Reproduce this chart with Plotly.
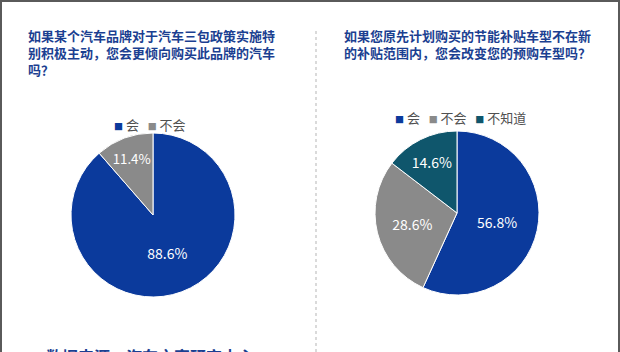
import plotly.graph_objects as go

W, H = 620, 352

left_title = "如果某个汽车品牌对于汽车三包政策实施特<br>别积极主动，您会更倾向购买此品牌的汽车<br>吗？"
right_title = "如果您原先计划购买的节能补贴车型不在新<br>的补贴范围内，您会改变您的预购车型吗？"
source_text = "数据来源：汽车之家研究中心"

left_labels = ["会", "不会"]
left_values = [88.6, 11.4]
right_labels = ["会", "不会", "不知道"]
right_values = [56.8, 28.6, 14.6]

left_colors = ["#0b3a9c", "#8a8a8a"]
right_colors = ["#0b3a9c", "#8a8a8a", "#0f566c"]
title_color = "#1b3f91"
FONT = "Noto Sans CJK SC"

def px_x(x):
    return x / W

def px_y(y):
    return 1 - y / H

def dom(cx, cy, r):
    return dict(x=[px_x(cx - r), px_x(cx + r)], y=[px_y(cy + r), px_y(cy - r)])

fig = go.Figure()
for labels, values, colors, (cx, cy) in [
    (left_labels, left_values, left_colors, (153, 215)),
    (right_labels, right_values, right_colors, (457, 213)),
]:
    fig.add_trace(go.Pie(
        labels=labels, values=values, sort=False, direction="clockwise", rotation=0,
        marker=dict(colors=colors, line=dict(color="white", width=1)),
        texttemplate="%{value:.1f}%", textposition="inside", insidetextorientation="horizontal",
        textfont=dict(color="white", size=14, family=FONT),
        domain=dom(cx, cy, 82), showlegend=False, hoverinfo="label+value",
    ))

def legend_text(labels, colors):
    parts = []
    for lab, col in zip(labels, colors):
        parts.append(f"<span style='color:{col};font-size:9px'>■</span> {lab}")
    return "   ".join(parts)

fig.update_layout(
    width=W, height=H, margin=dict(l=0, r=0, t=0, b=0),
    paper_bgcolor="white", plot_bgcolor="white",
    font=dict(family=FONT),
)

for labels, colors, (cx, cy) in [
    (left_labels, left_colors, (150, 124)),
    (right_labels, right_colors, (460, 117)),
]:
    fig.add_annotation(text=legend_text(labels, colors), x=px_x(cx), y=px_y(cy),
                       xref="paper", yref="paper", xanchor="center", yanchor="middle",
                       showarrow=False, font=dict(size=13, color="#505050", family=FONT))

fig.add_annotation(text=f"<b>{left_title}</b>", x=px_x(26), y=px_y(24), xref="paper", yref="paper",
                   xanchor="left", yanchor="top", align="left", showarrow=False,
                   font=dict(size=13, color=title_color, family=FONT))
fig.add_annotation(text=f"<b>{right_title}</b>", x=px_x(342), y=px_y(24), xref="paper", yref="paper",
                   xanchor="left", yanchor="top", align="left", showarrow=False,
                   font=dict(size=13, color=title_color, family=FONT))
fig.add_annotation(text=f"<b>{source_text}</b>", x=px_x(44), y=px_y(342), xref="paper", yref="paper",
                   xanchor="left", yanchor="top", align="left", showarrow=False,
                   font=dict(size=16, color=title_color, family=FONT))

# divider and border
fig.add_shape(type="line", xref="paper", yref="paper", x0=px_x(316), x1=px_x(316), y0=0, y1=px_y(28),
              line=dict(color="#b5b5b5", width=1, dash="dot"))
fig.add_shape(type="line", xref="paper", yref="paper", x0=0, x1=1, y0=px_y(1), y1=px_y(1),
              line=dict(color="#5a5a5a", width=2))
fig.add_shape(type="line", xref="paper", yref="paper", x0=px_x(1), x1=px_x(1), y0=0, y1=1,
              line=dict(color="#5a5a5a", width=2))
fig.add_shape(type="line", xref="paper", yref="paper", x0=px_x(619), x1=px_x(619), y0=0, y1=1,
              line=dict(color="#5a5a5a", width=2))

fig.write_html("out.html")
